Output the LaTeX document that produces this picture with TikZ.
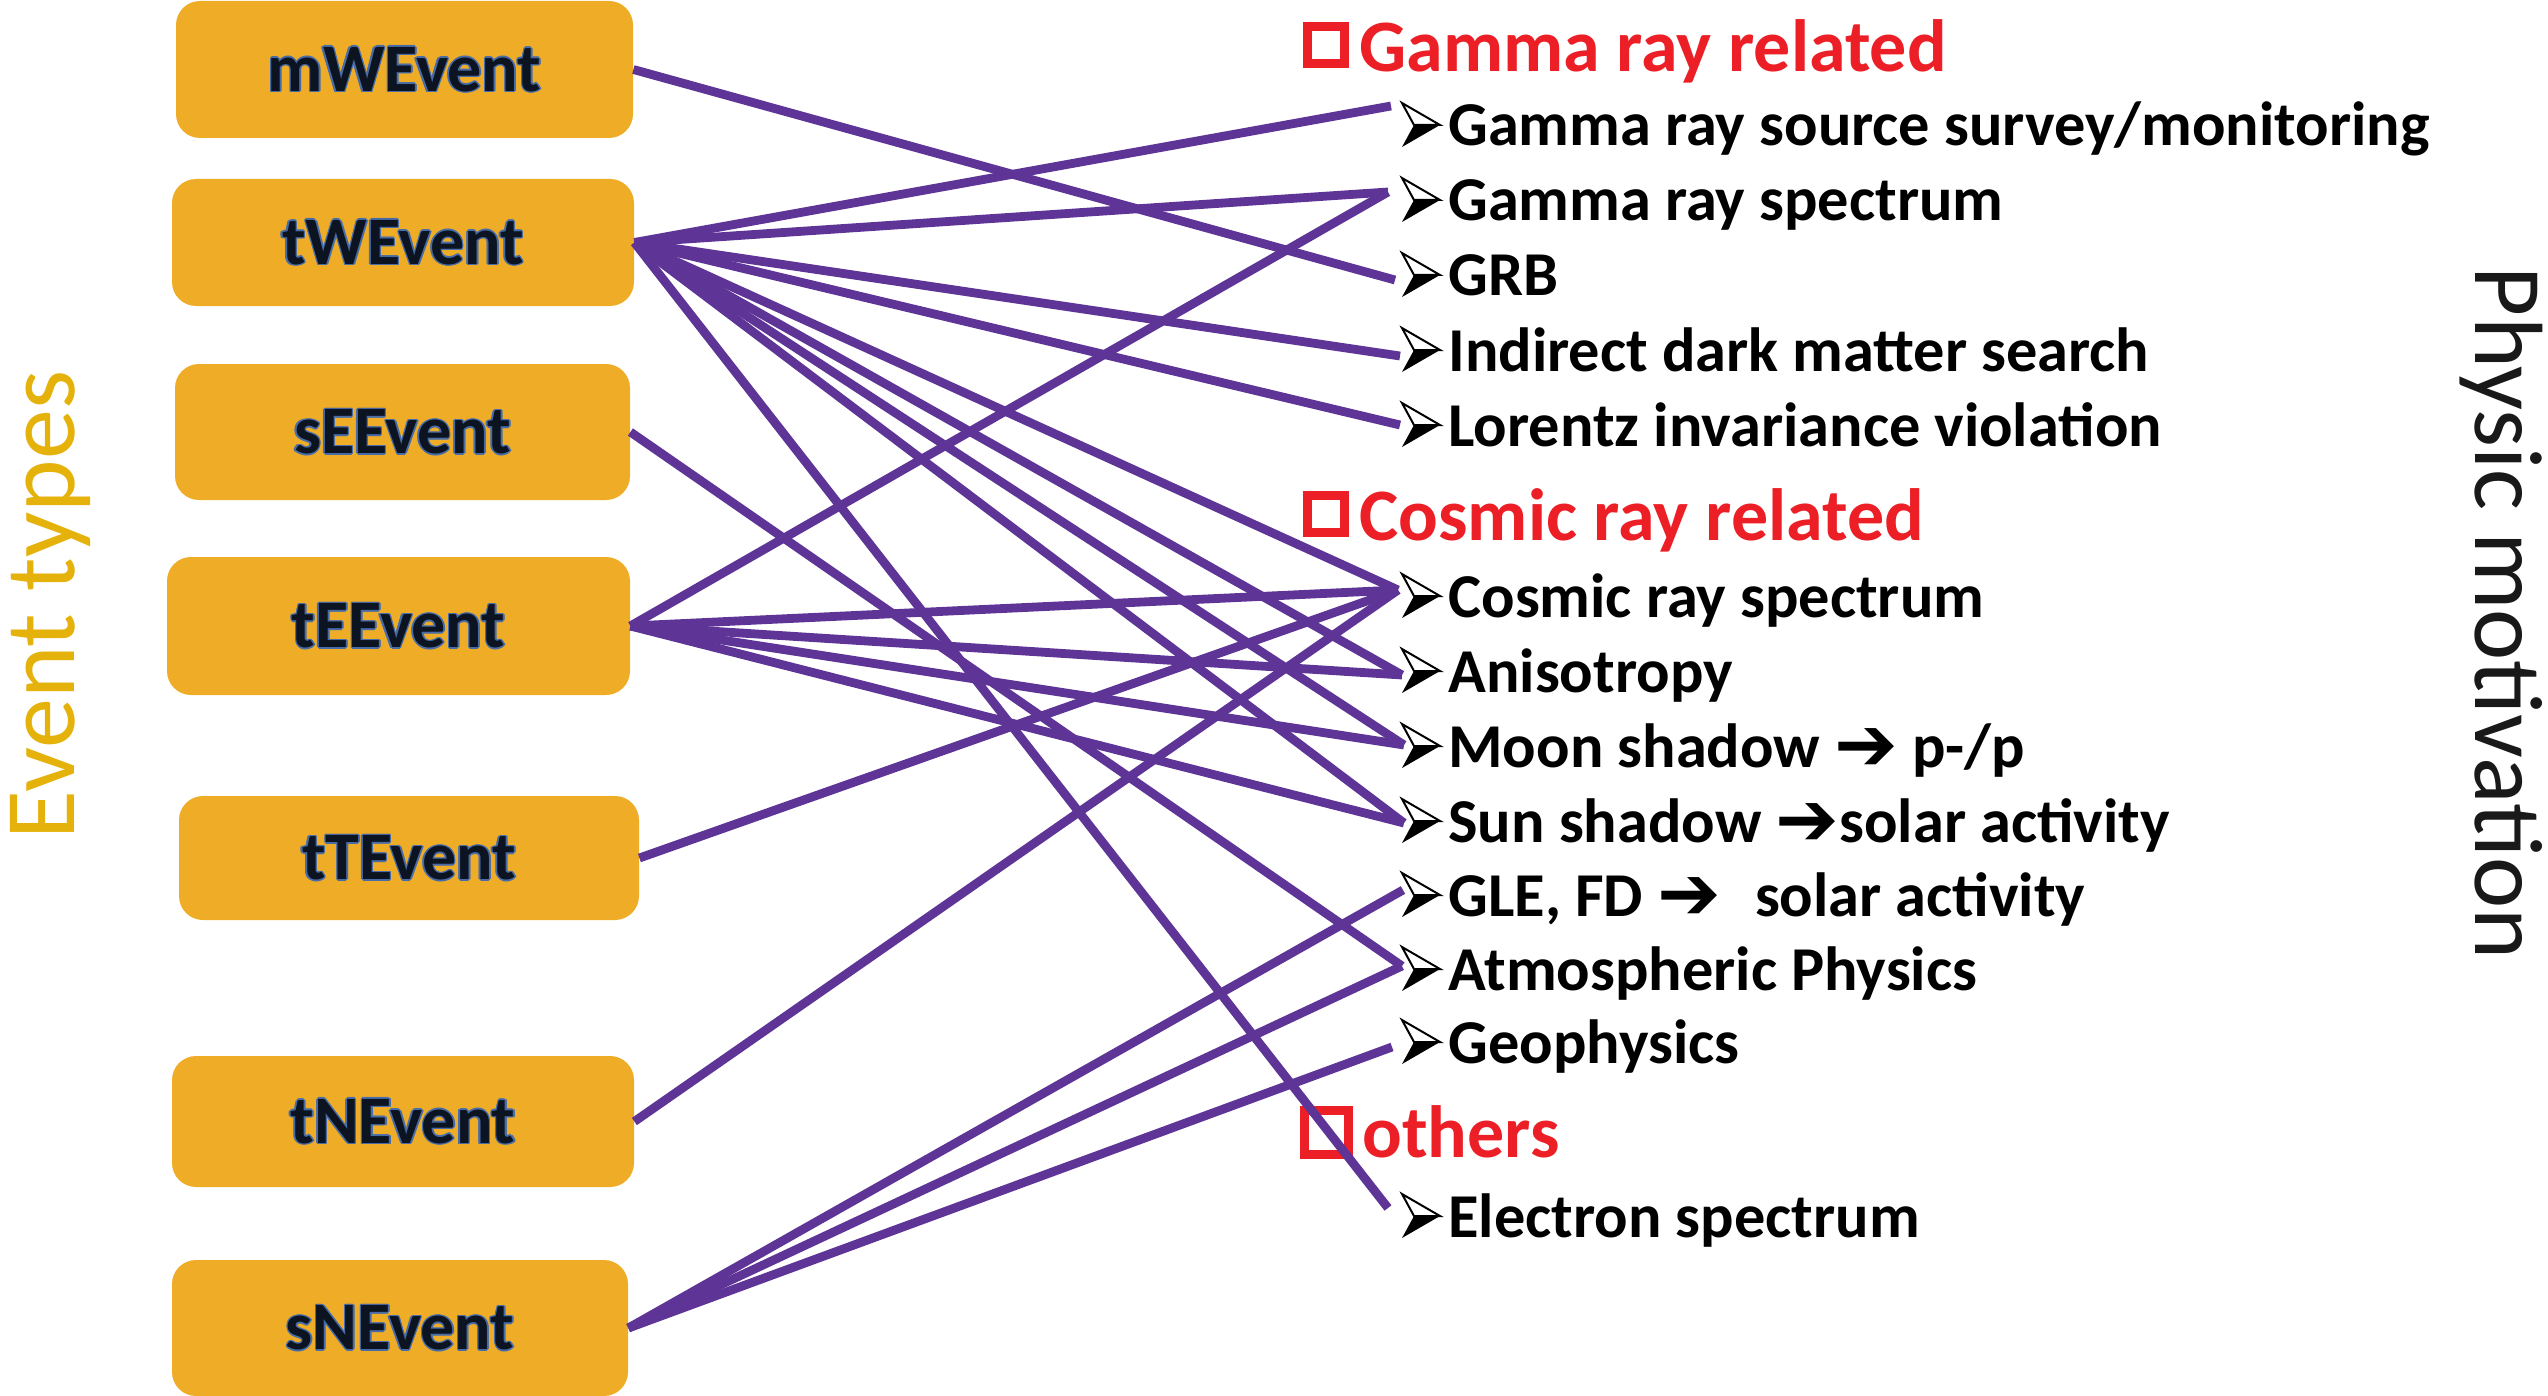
\documentclass[tikz,border=0pt]{standalone}
\usepackage{fontspec}
\setmainfont{Carlito}
\newfontfamily\dv{DejaVu Sans}
\definecolor{boxfill}{RGB}{239,173,39}
\definecolor{boxtext}{RGB}{12,20,34}
\definecolor{outlblue}{RGB}{72,108,168}
\definecolor{conncol}{RGB}{94,53,151}
\definecolor{headred}{RGB}{236,30,38}
\definecolor{goldtext}{RGB}{228,178,10}
\newcommand\outl[1]{\leavevmode
  \rlap{\textcolor{outlblue}{\kern0.8pt #1}}%
  \rlap{\textcolor{outlblue}{\kern-0.8pt #1}}%
  \rlap{\textcolor{outlblue}{\raisebox{0.8pt}{#1}}}%
  \rlap{\textcolor{outlblue}{\raisebox{-0.8pt}{#1}}}%
  \rlap{\textcolor{outlblue}{\kern0.55pt\raisebox{0.55pt}{#1}}}%
  \rlap{\textcolor{outlblue}{\kern-0.55pt\raisebox{0.55pt}{#1}}}%
  \rlap{\textcolor{outlblue}{\kern0.55pt\raisebox{-0.55pt}{#1}}}%
  \rlap{\textcolor{outlblue}{\kern-0.55pt\raisebox{-0.55pt}{#1}}}%
  #1}
\newcommand\arr{{\dv\bfseries\fontsize{38}{40}\selectfont\raisebox{-1.5pt}{➔}}}
\begin{document}
\begin{tikzpicture}[x=0.5pt,y=-0.5pt,
  evbox/.style={fill=boxfill, rounded corners=12pt, inner sep=0pt, text=boxtext,
    font=\fontsize{34}{40}\selectfont\bfseries},
  itemtext/.style={anchor=base west, inner sep=0pt, text=black,
    font=\fontsize{31.2}{37}\selectfont\bfseries},
  headtext/.style={anchor=base west, inner sep=0pt, text=headred,
    font=\fontsize{37}{44}\selectfont\bfseries},
  sq/.style={draw=headred, line width=4.5pt, minimum size=18.5pt, inner sep=0pt},
  conn/.style={draw=conncol, line width=4.4pt},
  bul/.pic={
    \fill[black] (-34,-21) -- (-8,-21) -- (-46,1) -- cycle;
    \filldraw[fill=white, draw=black, line width=1pt, line join=miter] (-46,-43) -- (-8,-21) -- (-34,-21) -- cycle;
  }]
\useasboundingbox (0,0) rectangle (2548,1396);

% event boxes
\node[evbox, minimum width=228.5pt, minimum height=68.5pt] (mW) at (404.5,69.5) {\outl{mWEvent}};
\node[evbox, minimum width=231pt, minimum height=63.5pt] (tW) at (403,242.5) {\outl{tWEvent}};
\node[evbox, minimum width=227.5pt, minimum height=68pt] (sE) at (402.5,432) {\outl{sEEvent}};
\node[evbox, minimum width=231.5pt, minimum height=69pt] (tE) at (398.5,626) {\outl{tEEvent}};
\node[evbox, minimum width=230pt, minimum height=62pt] (tT) at (409,858) {\outl{tTEvent}};
\node[evbox, minimum width=231pt, minimum height=65.5pt] (tN) at (403,1121.5) {\outl{tNEvent}};
\node[evbox, minimum width=228pt, minimum height=68pt] (sN) at (400,1328) {\outl{sNEvent}};

% side titles
\node[rotate=90, anchor=base, inner sep=0pt, text=goldtext, font=\fontsize{50}{60}\selectfont] (lt) at (74,605) {Event types};
\node[rotate=-90, inner sep=0pt, text=black!90, font=\fontsize{48.5}{58}\selectfont] (rt) at (2501,613) {Physic motivation};

% headings
\node[sq] (s1) at (1326,45.5) {};
\node[headtext] (h1) at (1359,72) {Gamma ray related};
\node[sq] (s2) at (1326,513.5) {};
\node[headtext] (h2) at (1359,540) {Cosmic ray related};
\node[sq, minimum size=22pt] (s3) at (1326.5,1132.5) {};
\node[headtext] (h3) at (1362,1157) {others};

% items
\node[itemtext] (i1) at (1448,146) {Gamma ray source survey/monitoring};
\node[itemtext] (i2) at (1448,221) {Gamma ray spectrum};
\node[itemtext] (i3) at (1448,296) {GRB};
\node[itemtext] (i4) at (1448,371) {Indirect dark matter search};
\node[itemtext] (i5) at (1448,446) {Lorentz invariance violation};
\node[itemtext] (i6) at (1448,617) {Cosmic ray spectrum};
\node[itemtext] (i7) at (1448,692) {Anisotropy};
\node[itemtext] (i8) at (1448,767) {Moon shadow \arr\ p-/p};
\node[itemtext] (i9) at (1448,842) {Sun shadow \arr solar activity};
\node[itemtext] (i10) at (1448,916) {GLE, FD \arr\hspace{10pt} solar activity};
\node[itemtext] (i11) at (1448,990) {Atmospheric Physics};
\node[itemtext] (i12) at (1448,1063) {Geophysics};
\node[itemtext] (i13) at (1448,1237) {Electron spectrum};

\foreach \n in {i1,i2,i3,i4,i5,i6,i7,i8,i9,i10,i11,i12,i13}
  \pic at (\n.base west) {bul};

% connector end points
\coordinate (e1) at (1391,106);
\coordinate (e2) at (1388,192);
\coordinate (e3) at (1395,280);
\coordinate (e4) at (1400,356);
\coordinate (e5) at (1400,425);
\coordinate (e6) at (1398,590);
\coordinate (e7) at (1402,675);
\coordinate (e8) at (1404,745);
\coordinate (e9) at (1404,823);
\coordinate (e10) at (1403,890);
\coordinate (e11) at (1402,966);
\coordinate (e12) at (1392,1047);
\coordinate (e13) at (1388,1208);

% connectors
\draw[conn] (mW.east) -- (e3);
\foreach \e in {e1,e2,e4,e5,e6,e7,e8,e9,e13}
  \draw[conn] (tW.east) -- (\e);
\draw[conn] (sE.east) -- (e11);
\foreach \e in {e2,e6,e7,e8,e9}
  \draw[conn] (tE.east) -- (\e);
\draw[conn] (tT.east) -- (e6);
\draw[conn] (tN.east) -- (e6);
\foreach \e in {e10,e11,e12}
  \draw[conn] (sN.east) -- (\e);
\end{tikzpicture}
\end{document}
